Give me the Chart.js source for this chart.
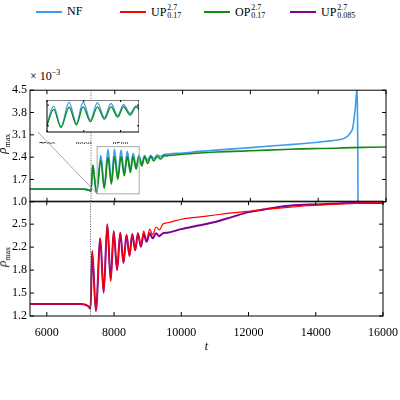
<!DOCTYPE html>
<html><head><meta charset="utf-8">
<script src="https://cdn.jsdelivr.net/npm/chart.js@4"></script>
<style>
body{margin:0;width:400px;height:400px;background:#fff;font-family:"Liberation Serif",serif;position:relative;overflow:hidden}
.box{position:absolute}
.leg{position:absolute;top:4px;font-size:12px;display:flex;align-items:center}
.leg i{display:inline-block;width:26px;height:2px;margin-right:5px}
.ss{display:inline-flex;flex-direction:column;font-size:8px;line-height:8px;vertical-align:middle;margin-left:1px}
.yt{position:absolute;left:-17px;width:40px;text-align:center;transform:rotate(-90deg);font-size:13px;font-style:italic;z-index:5}
.yt sub{font-size:8px;font-style:normal}
</style></head><body>
<div class="leg" style="left:36px"><i style="background:#3a9cf0"></i>NF</div>
<div class="leg" style="left:120px"><i style="background:#ff0000"></i>UP<span class="ss"><span>2.7</span><span>0.17</span></span></div>
<div class="leg" style="left:204px"><i style="background:#138a13"></i>OP<span class="ss"><span>2.7</span><span>0.17</span></span></div>
<div class="leg" style="left:290px"><i style="background:#800090"></i>UP<span class="ss"><span>2.7</span><span>0.085</span></span></div>
<div style="position:absolute;left:30px;top:68px;font-size:12px">× 10<sup style="font-size:8px">−3</sup></div>
<div class="yt" style="top:135px">ρ<sub>max</sub></div>
<div class="yt" style="top:248px">ρ<sub>max</sub></div>
<div class="box" style="left:0;top:80px;width:400px;height:132px"><canvas id="top"></canvas></div>
<div class="box" style="left:0;top:191px;width:400px;height:163px"><canvas id="bot"></canvas></div>
<div class="box" style="left:38px;top:100px;width:101px;height:44px"><canvas id="ins"></canvas></div>
<script>
const tVals = [5500,6000,6500,7000,7150,7250,7300,7350,7460,7590,7690,7800,7900,7990,8090,8185,8280,
  8370,8460,8540,8630,8710,8800,8880,8970,9060,9150,9250,9350,9450,9600,
  10000,10500,11000,11500,12000,12500,13000,13500,14000,14500,15000,15500,16000];
const upA = [1.37,1.37,1.37,1.37,1.36,1.33,1.30,2.12,1.27,2.30,1.53,2.50,1.70,2.40,1.85,2.38,1.95,
  2.35,2.05,2.36,2.13,2.37,2.20,2.40,2.28,2.43,2.35,2.46,2.42,2.50,2.52,
  2.57,2.60,2.63,2.66,2.68,2.71,2.73,2.75,2.77,2.78,2.79,2.80,2.80];
const upB = [1.37,1.37,1.37,1.37,1.36,1.33,1.30,2.12,1.27,2.30,1.53,2.50,1.70,2.40,1.85,2.38,1.95,
  2.35,2.05,2.36,2.13,2.37,2.18,2.36,2.25,2.37,2.30,2.37,2.33,2.37,2.38,
  2.43,2.48,2.53,2.60,2.67,2.71,2.75,2.77,2.78,2.79,2.80,2.80,2.80];
const opA = [1.40,1.40,1.40,1.40,1.39,1.36,1.33,2.15,1.28,2.30,1.42,2.40,1.55,2.42,1.70,2.42,1.82,
  2.42,1.92,2.42,2.02,2.42,2.12,2.42,2.20,2.42,2.28,2.42,2.34,2.44,2.45,
  2.49,2.53,2.56,2.58,2.60,2.62,2.64,2.66,2.67,2.68,2.70,2.71,2.72];
const nfT = tVals.slice(0, 42).concat([15100,15150,15165,15175]);
const nf = [1.40,1.40,1.40,1.40,1.39,1.36,1.33,2.15,1.28,2.45,1.45,2.65,1.62,2.65,1.78,2.62,1.90,
  2.58,2.00,2.52,2.10,2.47,2.20,2.45,2.30,2.46,2.35,2.47,2.42,2.48,2.50,
  2.53,2.58,2.62,2.66,2.70,2.74,2.78,2.82,2.87,2.93,3.25,4.0,4.6,3.0,1.0];
const topTicks = [1.0,1.7,2.4,3.1,3.8,4.5];
const botTicks = [1.2,1.525,1.85,2.175,2.5];
const botLabels = ['1.2','1.5','1.8','2.2','2.5'];
const xTicks = [6000,8000,10000,12000,14000,16000];
const insetTicks = [7500,8000,8500];
const onset = 7300;

const C = {nf:'#3a9cf0', up:'#ff0000', op:'#138a13', up2:'#800090'};
const pts = (xs, ys) => xs.map((x, i) => ({x, y: ys[i]}));
const ds = (xs, ys, c, w) => ({data: pts(xs, ys), borderColor: c, borderWidth: w, pointRadius: 0, cubicInterpolationMode: 'monotone', fill: false});
const font = {family: 'Liberation Serif', size: 12};

// inward tick marks on all four sides + onset line + zoom box
const frame = {
  id: 'frame',
  afterDatasetsDraw(chart, a, o) {
    const {ctx, chartArea: r, scales: {x, y}} = chart;
    ctx.save();
    ctx.strokeStyle = '#000'; ctx.lineWidth = 1;
    ctx.strokeRect(r.left, r.top, r.right - r.left, r.bottom - r.top);
    const L = o.len || 4;
    x.ticks.forEach(t => {
      const p = x.getPixelForValue(t.value);
      ctx.beginPath(); ctx.moveTo(p, r.bottom); ctx.lineTo(p, r.bottom - L);
      ctx.moveTo(p, r.top); ctx.lineTo(p, r.top + L); ctx.stroke();
    });
    y.ticks.forEach(t => {
      const p = y.getPixelForValue(t.value);
      ctx.beginPath(); ctx.moveTo(r.left, p); ctx.lineTo(r.left + L, p);
      ctx.moveTo(r.right, p); ctx.lineTo(r.right - L, p); ctx.stroke();
    });
    if (o.onset) {
      const p = x.getPixelForValue(onset);
      ctx.setLineDash([1, 1.5]); ctx.strokeStyle = '#555';
      ctx.beginPath(); ctx.moveTo(p, r.top); ctx.lineTo(p, r.bottom); ctx.stroke();
    }
    if (o.zoom) {
      const x0 = x.getPixelForValue(7480), x1 = x.getPixelForValue(8720);
      const y0 = y.getPixelForValue(1.25), y1 = y.getPixelForValue(2.73);
      ctx.setLineDash([]); ctx.strokeStyle = '#aaa';
      ctx.strokeRect(x0, y1, x1 - x0, y0 - y1);
      ctx.beginPath(); ctx.moveTo(38, 52); ctx.lineTo(x0, y0); ctx.stroke();
    }
    ctx.restore();
  }
};

const xScale = (show) => ({
  type: 'linear', min: 5500, max: 16000, display: show,
  afterBuildTicks: s => { s.ticks = xTicks.map(v => ({value: v})); },
  grid: {display: false}, border: {display: false},
  ticks: {font, color: '#000', padding: 2, callback: v => String(v)},
  title: {display: show, text: 't', font: {family: 'Liberation Serif', size: 12, style: 'italic'}, color: '#000', padding: 0},
  afterFit: s => { if (show) s.height = 38; }
});
const yScale = (min, max, vals, fmt) => ({
  min, max, afterBuildTicks: s => { s.ticks = vals.map(v => ({value: v})); },
  grid: {display: false, tickLength: 0}, border: {display: false},
  ticks: {font, color: '#000', padding: 3, callback: fmt}
});

new Chart(document.getElementById('top'), {
  type: 'line',
  data: {datasets: [ds(tVals, opA, C.op, 1.6), ds(nfT, nf, C.nf, 1.6)]},
  options: {
    responsive: true, maintainAspectRatio: false, animation: false,
    layout: {padding: {top: 4, right: 14, bottom: 0, left: 9}},
    plugins: {legend: {display: false}, tooltip: {enabled: false}, frame: {onset: true, zoom: true}},
    scales: {x: xScale(false), y: yScale(1.0, 4.5, topTicks, v => v.toFixed(1))}
  },
  plugins: [frame]
});

new Chart(document.getElementById('bot'), {
  type: 'line',
  data: {datasets: [ds(tVals, upA, C.up, 1.2), ds(tVals, upB, C.up2, 2)]},
  options: {
    responsive: true, maintainAspectRatio: false, animation: false,
    layout: {padding: {top: 0, right: 14, bottom: 0, left: 9}},
    plugins: {legend: {display: false}, tooltip: {enabled: false}, frame: {onset: true}},
    scales: {x: xScale(true), y: yScale(1.2, 2.825, botTicks, (v, i) => botLabels[i])}
  },
  plugins: [frame]
});

new Chart(document.getElementById('ins'), {
  type: 'line',
  data: {datasets: [ds(tVals, opA, C.op, 1.3), ds(nfT, nf, C.nf, 1.3)]},
  options: {
    responsive: true, maintainAspectRatio: false, animation: false,
    layout: {padding: {left: 0, right: 0, top: 0, bottom: 0}},
    plugins: {legend: {display: false}, tooltip: {enabled: false}, frame: {len: 2}},
    scales: {
      x: {type: 'linear', min: 7500, max: 8750,
        afterBuildTicks: s => { s.ticks = insetTicks.map(v => ({value: v})); },
        grid: {display: false}, border: {display: false},
        ticks: {font: {family: 'Liberation Serif', size: 8}, color: '#000', padding: 1, maxRotation: 0, autoSkip: false, callback: v => String(v)},
        afterFit: s => { s.height = 12; }},
      y: {min: 1.2, max: 2.75, display: false,
        afterBuildTicks: s => { s.ticks = [1.5, 2.0, 2.5].map(v => ({value: v})); }}
    }
  },
  plugins: [{id: 'bg', beforeDraw(c) { const {ctx, chartArea: r} = c; ctx.fillStyle = '#fff'; ctx.fillRect(r.left, r.top, r.right - r.left, r.bottom - r.top); }}, frame]
});
</script>
</body></html>
